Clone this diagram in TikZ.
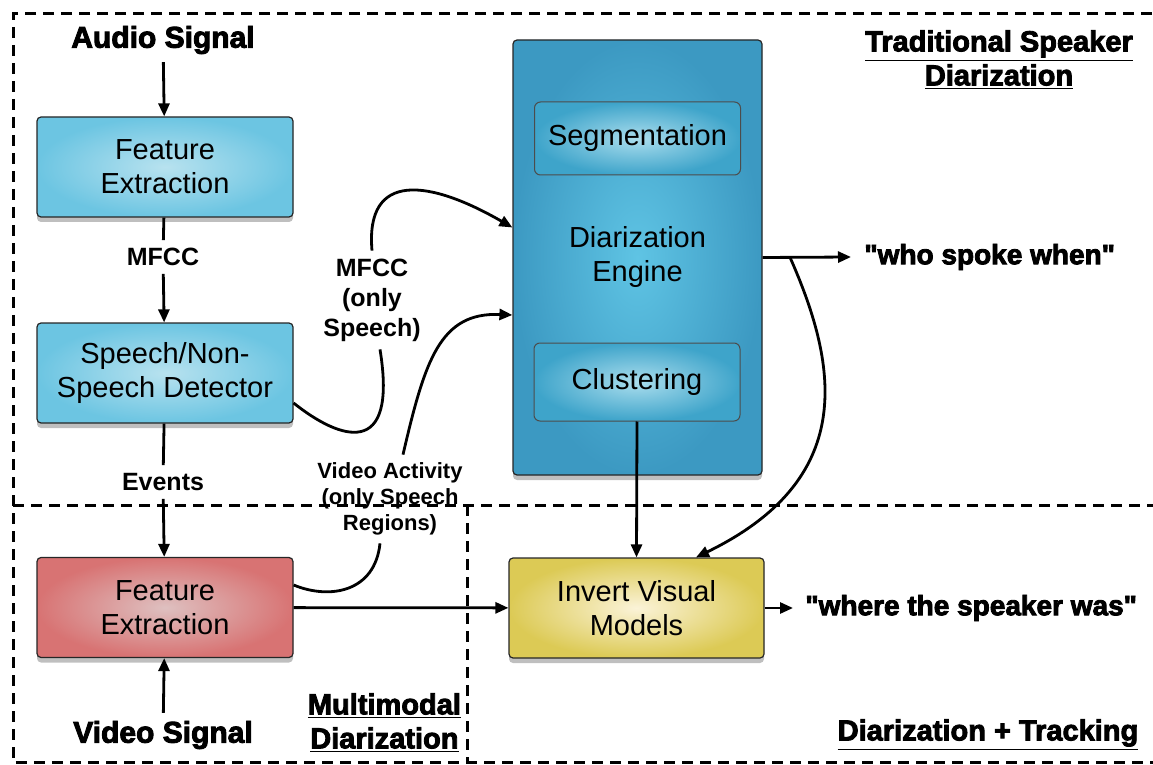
\documentclass[tikz,border=0pt]{standalone}
\usepackage{fontspec}
\setmainfont{Liberation Sans}
\newfontfamily\heavyfont[FakeBold=3]{Liberation Sans Bold}
\usetikzlibrary{arrows.meta,shadows}

\definecolor{audioblue}{HTML}{6CC5E2}
\definecolor{audiolight}{HTML}{B8E2EF}
\definecolor{engineblue}{HTML}{3C99C2}
\definecolor{enginelight}{HTML}{5FC4E4}
\definecolor{partblue}{HTML}{3EA4CA}
\definecolor{partlight}{HTML}{AADDED}
\definecolor{videored}{HTML}{D87373}
\definecolor{videolight}{HTML}{DEC0C0}
\definecolor{trackyellow}{HTML}{DCCA55}
\definecolor{tracklight}{HTML}{FBF3D8}

\begin{document}
\begin{tikzpicture}[x=0.5pt, y=-0.5pt,
  box/.style={draw=black!85, line width=0.6pt, rounded corners=2pt, align=center,
    inner sep=0pt, font=\fontsize{14.5}{17}\selectfont,
    drop shadow={shadow xshift=0pt, shadow yshift=-2.5pt, opacity=0.5}},
  bluebox/.style={box, minimum width=128pt, minimum height=50pt,
    inner color=audiolight, outer color=audioblue},
  redbox/.style={box, minimum width=128pt, minimum height=50pt,
    inner color=videolight, outer color=videored},
  yellowbox/.style={box, minimum width=127.5pt, minimum height=50pt,
    inner color=tracklight, outer color=trackyellow},
  enginebox/.style={box, inner color=enginelight, outer color=engineblue},
  partbox/.style={draw=black!70, line width=0.5pt, rounded corners=3pt, align=center,
    inner sep=0pt, font=\fontsize{14.5}{17}\selectfont,
    minimum width=103pt, inner color=partlight, outer color=partblue},
  flowlabel/.style={align=center, font=\bfseries\fontsize{12.5}{15}\selectfont},
  signal/.style={font=\heavyfont\fontsize{15}{17}\selectfont},
  outtext/.style={anchor=west, inner xsep=6pt, font=\heavyfont\fontsize{14}{17}\selectfont},
  region/.style={align=center, font=\heavyfont\fontsize{14.5}{17}\selectfont},
  arrow/.style={-{Triangle[length=6.5pt, width=5.5pt]}},
  line width=1.4pt]

\def \xaudio {165}
\def \xengine {637.5}
\def \ysplit {505}

\useasboundingbox (0,0) rectangle (1153,765);

% dashed regions
\begin{scope}[dashed, dash pattern=on 5.5pt off 3.5pt, line width=1.5pt]
\draw (1170,14) -- (13,14) -- (13,762) -- (1170,762);
\draw (13,\ysplit) -- (1170,\ysplit);
\draw (467,\ysplit) -- (467,762);
\end{scope}

% region titles
\node [region] (tradtitle) at (999,60) {\underline{Traditional Speaker}\\\underline{Diarization}};
\node [region, anchor=east] (mmtitle) at (469,723) {\underline{Multimodal}\\\underline{Diarization}};
\node [region] (tracktitle) at (988,735) {\underline{Diarization + Tracking}};

% audio column
\node [signal] (audio) at (163,40) {Audio Signal};
\node [bluebox] (fe1) at (\xaudio,167) {Feature\\Extraction};
\node [flowlabel] (mfcc) at (163,257) {MFCC};
\node [bluebox] (snsd) at (\xaudio,373) {Speech/Non-\\Speech Detector};
\node [flowlabel] (events) at (163,482) {Events};
\node [redbox] (fe2) at (\xaudio,607.5) {Feature\\Extraction};
\node [signal] (video) at (163,735) {Video Signal};

\draw [arrow] (audio) -- (fe1);
\draw (fe1) -- (mfcc);
\draw [arrow] (mfcc) -- (snsd);
\draw (snsd) -- (events);
\draw [arrow] (events) -- (fe2);
\draw [arrow] (video) -- (fe2);

% diarization engine
\node [enginebox, minimum width=124.5pt, minimum height=217.5pt] (engine) at (\xengine,257.5) {Diarization\\Engine};
\node [partbox, minimum height=36.5pt] (seg) at (\xengine,138.5) {Segmentation};
\node [partbox, minimum height=39pt] (clus) at (637,382) {Clustering};
\node [yellowbox] (inv) at (636.5,608) {Invert Visual\\Models};

% side labels on the curved links
\node [flowlabel] (mfccsp) at (372,300) {MFCC\\(only\\Speech)};
\node [flowlabel, font=\bfseries\fontsize{11}{13}\selectfont] (vact) at (390,499) {Video Activity\\(only Speech\\Regions)};

\draw ([yshift=-15pt]snsd.east) .. controls (340,440) and (398,460) .. ([xshift=4pt]mfccsp.south);
\draw [arrow] (mfccsp.north) .. controls (365,170) and (430,180) .. ([yshift=15pt]engine.west);
\draw ([yshift=11.25pt]fe2.east) .. controls (330,600) and (375,592) .. ([xshift=-5pt]vact.south);
\draw [arrow] ([xshift=6.5pt]vact.north) .. controls (425,360) and (440,312) .. ([yshift=-28.75pt]engine.west);

% outputs
\node [outtext] (who) at (851,257) {"who spoke when"};
\node [outtext, inner xsep=5.5pt] (where) at (793,608) {"where the speaker was"};

\draw [arrow] (engine.east) -- coordinate[pos=0.31] (split) (who.west);
\draw [arrow] (split) .. controls (840,370) and (855,480) .. ([xshift=29.75pt]inv.north);
\draw [arrow] (clus.south) -- (inv.north);
\draw [arrow] (fe2) -- (inv);
\draw [arrow] (inv) -- (where.west);

\end{tikzpicture}
\end{document}
